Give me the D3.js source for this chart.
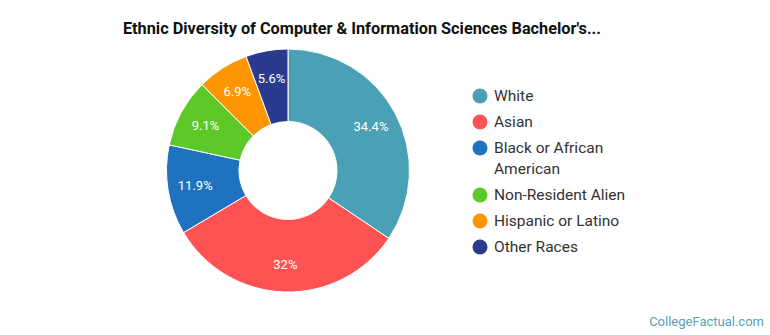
<!DOCTYPE html>
<html><head><meta charset="utf-8">
<script src="https://cdn.jsdelivr.net/npm/d3@7"></script>
<style>body{margin:0;background:#fff;} svg{display:block;font-family:Roboto,"Noto Sans",sans-serif;}</style>
</head><body>
<svg id="c" width="770" height="335"></svg>
<script>
const categories = ["White","Asian","Black or African American","Non-Resident Alien","Hispanic or Latino","Other Races"];
const values = [34.4, 32, 11.9, 9.1, 6.9, 5.6];
const valueLabels = ["34.4%","32%","11.9%","9.1%","6.9%","5.6%"];
const legendLines = [["White"],["Asian"],["Black or African","American"],["Non-Resident Alien"],["Hispanic or Latino"],["Other Races"]];
const colors = ["#4aa0b5","#ff5252","#1f72bf","#5dc928","#fd9600","#2a3a8f"];

const svg = d3.select("#c");
svg.append("text").attr("x",362).attr("y",34).attr("text-anchor","middle")
  .attr("font-size",16.3).attr("font-weight",700).attr("fill","#111")
  .text("Ethnic Diversity of Computer & Information Sciences Bachelor's...");

const cx = 288, cy = 170.5, R = 121.5, r0 = 49;
const color = d3.scaleOrdinal().domain(categories).range(colors);
const pie = d3.pie().sort(null).value(d=>d.v);
const data = categories.map((c,i)=>({c, v: values[i], l: valueLabels[i]}));
const arcs = pie(data);
const arc = d3.arc().innerRadius(r0).outerRadius(R);
const labelArc = d3.arc().innerRadius(94).outerRadius(94);
const g = svg.append("g").attr("transform",`translate(${cx},${cy})`);
g.selectAll("path").data(arcs).join("path")
  .attr("d",arc).attr("fill",d=>color(d.data.c)).attr("stroke","#fff").attr("stroke-width",1);
g.selectAll("text").data(arcs).join("text")
  .attr("transform",d=>`translate(${labelArc.centroid(d)})`)
  .attr("text-anchor","middle").attr("dy","0.35em")
  .attr("font-size",13).attr("fill","#fff").text(d=>d.data.l);

const lg = svg.append("g");
let y = 96;
categories.forEach((c,i)=>{
  lg.append("circle").attr("cx",480).attr("cy",y).attr("r",7.5).attr("fill",color(c));
  const lines = legendLines[i];
  lines.forEach((ln,j)=>{
    lg.append("text").attr("x",494).attr("y",y + j*21).attr("dy","0.35em")
      .attr("font-size",15.5).attr("fill","#333").text(ln);
  });
  y += 26 + (lines.length-1)*21;
});

svg.append("text").attr("x",764).attr("y",326).attr("text-anchor","end")
  .attr("font-size",13).attr("fill","#5a9fb8").text("CollegeFactual.com");
</script>
</body></html>
